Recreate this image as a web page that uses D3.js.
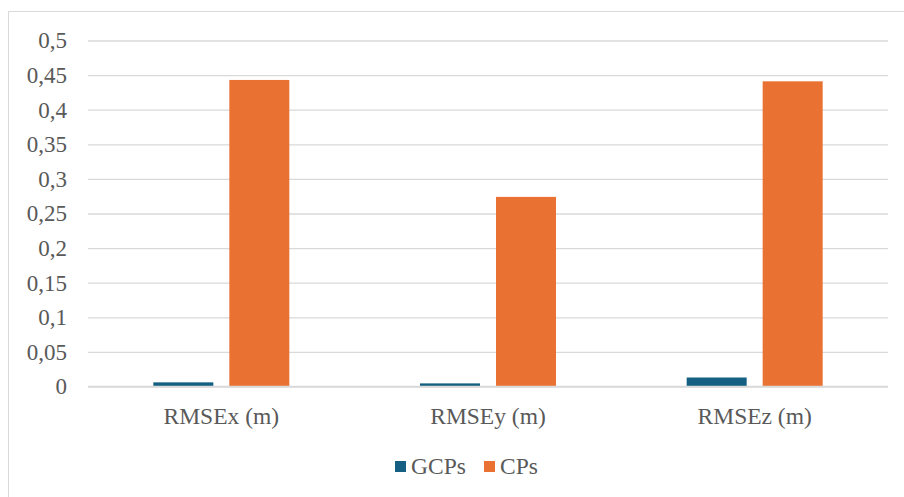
<!DOCTYPE html>
<html>
<head>
<meta charset="utf-8">
<script src="https://cdn.jsdelivr.net/npm/d3@7"></script>
<style>
  html, body { margin: 0; padding: 0; background: #fff; }
  svg { display: block; }
</style>
</head>
<body>
<svg id="chart" width="904" height="497"></svg>
<script>
// Error metrics per axis (metres)
const categories = ["RMSEx (m)", "RMSEy (m)", "RMSEz (m)"];
const seriesNames = ["GCPs", "CPs"];
const gcpValues = [0.006, 0.0045, 0.013];
const cpValues = [0.443, 0.274, 0.441];
const yTicks = [0, 0.05, 0.1, 0.15, 0.2, 0.25, 0.3, 0.35, 0.4, 0.45, 0.5];
const colors = ["#156082", "#e97132"];

const FONT = "Liberation Serif, DejaVu Serif";
const TEXT_COLOR = "#595959";

const svg = d3.select("#chart");

// Chart-area frame
svg.append("rect")
  .attr("x", 8.5).attr("y", 11.5)
  .attr("width", 910).attr("height", 500)
  .attr("fill", "#fff").attr("stroke", "#d9d9d9").attr("stroke-width", 1);

const plot = { left: 88, right: 888, top: 40.5, bottom: 386.5 };

const x0 = d3.scaleBand().domain(categories).range([plot.left, plot.right]).paddingInner(0).paddingOuter(0);
const y = d3.scaleLinear().domain([0, 0.5]).range([plot.bottom, plot.top]);

const barW = 60, gap = 16;
const x1 = d3.scaleOrdinal().domain(seriesNames)
  .range([-(barW + gap / 2), gap / 2]);

const fmt = v => String(+v.toFixed(2)).replace(".", ",");

// Gridlines and tick labels
const yAxis = d3.axisLeft(y).tickValues(yTicks).tickSize(-(plot.right - plot.left)).tickFormat(fmt).tickPadding(21);
const gy = svg.append("g").attr("transform", `translate(${plot.left},0)`).call(yAxis)
  .attr("font-family", FONT);
gy.select(".domain").remove();
gy.selectAll(".tick line").attr("stroke", "#d9d9d9").attr("stroke-width", 1.3);
gy.selectAll(".tick text")
  .attr("font-family", FONT).attr("font-size", 23).attr("fill", TEXT_COLOR);

// Bars
const rows = categories.map((c, i) => ({ cat: c, values: [gcpValues[i], cpValues[i]] }));
const groups = svg.append("g").selectAll("g").data(rows).join("g")
  .attr("transform", d => `translate(${x0(d.cat) + x0.bandwidth() / 2},0)`);
groups.selectAll("rect")
  .data(d => d.values.map((v, j) => ({ name: seriesNames[j], v, j })))
  .join("rect")
  .attr("x", d => x1(d.name))
  .attr("width", barW)
  .attr("y", d => y(d.v))
  .attr("height", d => y(0) - y(d.v))
  .attr("fill", d => colors[d.j]);

// Baseline
svg.append("line")
  .attr("x1", plot.left).attr("x2", plot.right)
  .attr("y1", y(0)).attr("y2", y(0))
  .attr("stroke", "#d9d9d9").attr("stroke-width", 1.5);

// Category labels
const xAxis = d3.axisBottom(x0).tickSize(0).tickPadding(21);
const gx = svg.append("g").attr("transform", `translate(0,${plot.bottom})`).call(xAxis)
  .attr("font-family", FONT);
gx.select(".domain").remove();
gx.selectAll(".tick text")
  .attr("font-family", FONT).attr("font-size", 23.5).attr("fill", TEXT_COLOR);

// Legend
const legendItems = [
  { name: "GCPs", x: 395 },
  { name: "CPs", x: 484 }
];
const lg = svg.append("g");
legendItems.forEach((it, i) => {
  lg.append("rect").attr("x", it.x).attr("y", 461).attr("width", 11).attr("height", 11).attr("fill", colors[i]);
  lg.append("text").attr("x", it.x + 16).attr("y", 474)
    .attr("font-family", FONT).attr("font-size", 23.5).attr("fill", TEXT_COLOR)
    .text(it.name);
});
</script>
</body>
</html>
